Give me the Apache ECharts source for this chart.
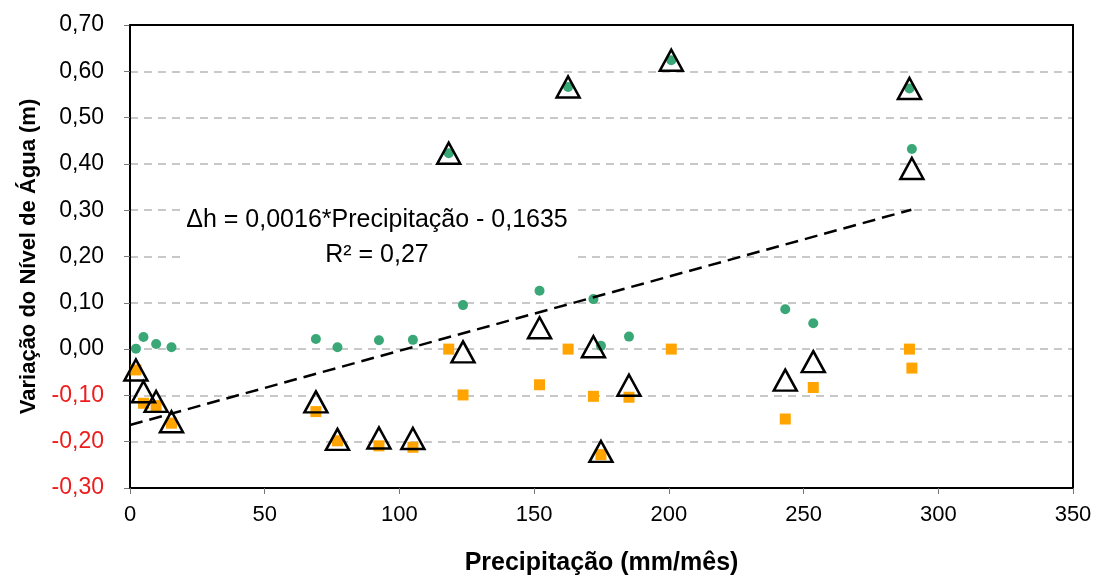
<!DOCTYPE html>
<html>
<head>
<meta charset="utf-8">
<script src="https://cdn.jsdelivr.net/npm/echarts@6/dist/echarts.min.js"></script>
<style>
html,body{margin:0;padding:0;background:#fff;}
#chart{width:1097px;height:577px;}
</style>
</head>
<body>
<div id="chart"></div>
<script>
// Precipitação (mm/mês) for each observation
const precipitacao = [2.2, 5.0, 9.7, 15.4, 69.0, 77.0, 92.4, 105.0, 118.3, 123.6, 152.0, 162.6, 172.0, 174.8, 185.2, 200.9, 243.2, 253.6, 289.3, 290.2];
// green circles
const serieVerde = [0.001, 0.026, 0.011, 0.004, 0.022, 0.004, 0.019, 0.020, 0.423, 0.095, 0.126, 0.566, 0.108, 0.007, 0.027, 0.624, 0.086, 0.056, 0.563, 0.432];
// orange squares
const serieLaranja = [-0.045, -0.117, -0.122, -0.160, -0.135, -0.198, -0.209, -0.212, 0.000, -0.099, -0.077, 0.000, -0.102, -0.228, -0.104, 0.000, -0.151, -0.083, 0.000, -0.041];
// open triangles
const serieTriangulo = [-0.045, -0.092, -0.113, -0.157, -0.114, -0.195, -0.192, -0.193, 0.423, -0.006, 0.046, 0.566, 0.005, -0.221, -0.078, 0.624, -0.067, -0.027, 0.563, 0.390];
// trend line end points
const tendenciaX = [0, 290];
const tendenciaY = [-0.164, 0.301];

const equacao = 'Δh = 0,0016*Precipitação - 0,1635';
const r2Texto = 'R² = 0,27';

const FONT = '"Liberation Sans", Arial, Helvetica, sans-serif';

const chart = echarts.init(document.getElementById('chart'), null, {renderer: 'canvas'});

const pts = (ys) => precipitacao.map((x, i) => [x, ys[i]]);

const option = {
  backgroundColor: '#fff',
  animation: false,
  textStyle: {fontFamily: FONT},
  grid: {left: 130, right: 24, top: 25, bottom: 89, containLabel: false, outerBoundsMode: 'none'},
  xAxis: [
    {
      type: 'value', min: 0, max: 350, interval: 50, position: 'bottom', z: 3,
      axisLine: {show: true, onZero: false, lineStyle: {color: '#000', width: 2}},
      axisTick: {show: true, length: 6, lineStyle: {color: '#777', width: 1}},
      axisLabel: {fontSize: 22, color: '#000', margin: 16, fontFamily: FONT},
      splitLine: {show: false},
      name: 'Precipitação (mm/mês)', nameLocation: 'middle', nameGap: 63,
      nameTextStyle: {fontSize: 25, fontWeight: 'bold', color: '#000', fontFamily: FONT}
    },
    {
      type: 'value', min: 0, max: 350, interval: 50, position: 'top', z: 3,
      axisLine: {show: true, onZero: false, lineStyle: {color: '#000', width: 2}},
      axisTick: {show: false}, axisLabel: {show: false}, splitLine: {show: false}
    }
  ],
  yAxis: [
    {
      type: 'value', min: -0.3, max: 0.7, interval: 0.1, position: 'left', z: 0,
      axisLine: {show: true, onZero: false, lineStyle: {color: '#000', width: 2}},
      axisTick: {show: true, length: 6, lineStyle: {color: '#777', width: 1}},
      axisLabel: {
        fontSize: 23, margin: 26, fontFamily: FONT,
        formatter: (v) => v.toFixed(2).replace('.', ','),
        color: (v) => (Number(v) < -0.001 ? '#ee1c1c' : '#000')
      },
      splitLine: {show: true, lineStyle: {color: '#c8c8c8', width: 2, type: [8, 6]}},
      name: 'Variação do Nível de Água (m)', nameLocation: 'middle', nameGap: 90,
      nameTextStyle: {fontSize: 22, fontWeight: 'bold', color: '#000', fontFamily: FONT}
    },
    {
      type: 'value', min: -0.3, max: 0.7, interval: 0.1, position: 'right', z: 3,
      axisLine: {show: true, onZero: false, lineStyle: {color: '#000', width: 2}},
      axisTick: {show: false}, axisLabel: {show: false}, splitLine: {show: false}
    }
  ],
  series: [
    {
      type: 'scatter', name: 'verde', z: 4,
      data: pts(serieVerde), symbol: 'circle', symbolSize: 10,
      itemStyle: {color: '#3aa776', opacity: 1}
    },
    {
      type: 'scatter', name: 'laranja', z: 4,
      data: pts(serieLaranja), symbol: 'rect', symbolSize: 11,
      itemStyle: {color: '#ffa400', opacity: 1}
    },
    {
      type: 'scatter', name: 'triangulo', z: 5,
      data: pts(serieTriangulo), symbol: 'triangle', symbolSize: [23, 21],
      itemStyle: {color: 'rgba(0,0,0,0)', borderColor: '#000', borderWidth: 2.5, opacity: 1}
    },
    {
      type: 'line', name: 'tendencia', z: 6,
      data: tendenciaX.map((x, i) => [x, tendenciaY[i]]),
      showSymbol: false, symbol: 'none',
      lineStyle: {color: '#000', width: 2.5, type: [13, 7]}
    }
  ],
  graphic: [
    {type: 'rect', shape: {x: 183, y: 192, width: 395, height: 80}, style: {fill: '#fff'}, z: 1},
    {
      type: 'text', x: 377, y: 220, z: 2,
      style: {text: equacao, font: '25px ' + FONT, fill: '#000', align: 'center', verticalAlign: 'middle', textAlign: 'center', textVerticalAlign: 'middle'}
    },
    {
      type: 'text', x: 377, y: 255, z: 2,
      style: {text: r2Texto, font: '25px ' + FONT, fill: '#000', align: 'center', verticalAlign: 'middle', textAlign: 'center', textVerticalAlign: 'middle'}
    }
  ]
};

chart.setOption(option);
</script>
</body>
</html>
